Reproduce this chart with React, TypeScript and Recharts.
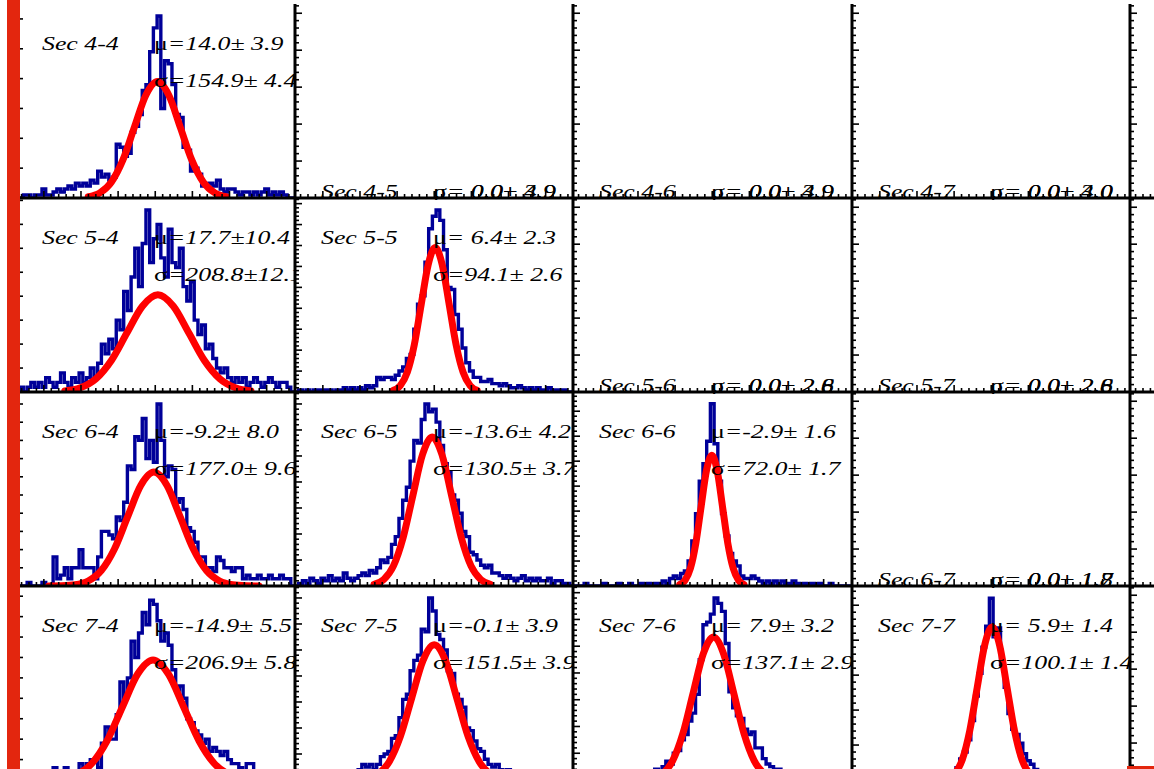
import React from 'react';
import { ComposedChart, Line, XAxis, YAxis } from 'recharts';

// histogram binning shared by every panel (75 bins of 25)
const BIN_LO = -937.5;
const BIN_W = 25;
const X_DOMAIN: [number, number] = [-937.5, 937.5];
const X_MINOR = 50;
const X_MAJOR = 250;

// panel frame positions on the page
const COL_X = [16, 294.5, 573, 851.5, 1130];
const ROW_Y = [4, 198, 392, 586];
const PW = 278.5;
const PH = 194;

const rowSec = [4, 5, 6, 7];
const colSec = [4, 5, 6, 7, 8];

// counts per bin
const sec44Counts = [0,0,1,1,0,1,1,3,1,1, 2,3,2,3,4,3,5,4,5,4, 6,5,9,7,8,6,7,18,17,14, 15,22,24,28,36,38,49,57,61,30, 46,45,38,28,27,17,16,9,10,8, 4,4,5,4,6,3,2,3,3,2, 1,2,2,1,2,1,2,3,1,2, 1,2,1,0,0];
const sec54Counts = [0,1,0,1,2,1,2,1,3,2, 1,2,4,2,1,3,2,4,2,3, 5,3,6,10,8,11,9,15,13,21, 17,24,30,22,31,38,27,32,35,28, 24,34,27,26,30,22,19,23,15,12, 14,9,10,7,5,4,5,3,2,3, 2,3,1,2,3,2,1,2,3,2, 1,2,2,1,0];
const sec64Counts = [0,0,0,1,0,0,0,1,0,0, 8,2,3,5,2,5,5,10,5,5, 5,2,8,15,15,14,13,19,18,23, 33,32,41,40,46,35,40,34,50,40, 30,33,32,23,24,21,16,15,12,8, 8,5,5,4,8,7,5,5,4,5, 5,2,3,2,2,3,2,2,3,2, 2,3,2,2,0];
const sec74Counts = [0,0,0,0,0,1,0,0,1,0, 3,1,2,3,1,2,1,4,3,4, 5,5,3,9,13,10,10,16,24,20, 25,34,30,36,41,38,44,43,39,34, 36,33,27,22,23,20,15,14,12,11, 9,10,7,8,7,6,7,5,4,4, 3,2,4,4,2,1,2,1,0,1, 0,0,0,0,0];
const sec55Counts = [0,1,0,1,0,1,1,0,1,1, 0,1,1,2,1,2,1,2,1,3, 2,3,7,6,7,7,6,8,10,12, 16,18,30,42,46,62,78,84,87,82, 68,50,49,37,30,21,14,10,7,7, 5,5,6,4,4,3,4,3,2,2, 3,2,1,2,1,2,1,1,2,1, 1,0,1,0,0];
const sec65Counts = [0,1,2,1,3,2,1,3,2,4, 2,3,2,5,3,2,3,4,5,4, 6,5,7,10,9,11,16,19,26,33, 38,48,56,55,64,70,67,68,63,54, 47,44,35,33,28,21,19,13,12,10, 8,7,8,5,5,4,3,4,3,2, 3,4,2,3,2,3,2,2,3,1, 2,2,1,1,0];
const sec75Counts = [0,0,1,0,1,2,1,0,2,1, 2,1,2,3,2,3,2,4,6,5, 6,4,6,9,10,11,16,17,24,31, 33,42,46,48,58,57,70,65,56,54, 50,42,41,33,31,28,20,19,15,12, 11,8,6,5,6,4,3,4,3,2, 3,2,2,1,2,1,1,2,1,0, 1,0,1,0,0];
const sec66Counts = [0,0,0,1,0,0,0,0,1,0, 0,0,1,0,0,1,0,0,1,0, 1,0,1,1,2,1,3,4,3,5, 6,10,18,29,42,49,58,73,57,42, 29,20,13,10,8,4,3,3,4,3, 2,1,2,1,2,1,2,1,1,2, 1,0,1,0,1,0,1,0,0,1, 0,0,0,0,0];
const sec76Counts = [0,1,0,0,1,0,1,0,1,1, 0,1,2,1,1,2,1,2,2,3, 2,3,4,3,5,7,6,10,11,15, 17,22,25,32,45,58,59,62,68,66, 63,51,33,27,24,23,19,17,18,12, 12,8,6,5,4,4,3,3,2,3, 2,1,2,1,1,2,1,1,0,1, 0,1,0,0,0];
const sec77Counts = [0,0,0,0,0,0,0,0,0,0, 0,1,0,0,1,0,0,1,0,1, 0,1,1,2,2,3,4,5,7,12, 16,23,34,48,61,76,88,104,82,87, 66,53,38,29,26,21,15,11,9,6, 5,4,3,3,2,2,1,2,1,1, 0,1,0,1,0,0,1,0,0,0, 0,0,0,0,0];

// gaussian fit curves, sampled points
const sec44FitX = [-450.7, -373.3, -295.8, -218.4, -140.9, -63.5, 14, 91.5, 168.9, 246.4, 323.8, 401.3, 478.7];
const sec44FitY = [0.43, 1.71, 5.28, 12.66, 23.65, 34.42, 39, 34.42, 23.65, 12.66, 5.28, 1.71, 0.43];
const sec54FitX = [-608.7, -504.3, -399.9, -295.5, -191.1, -86.7, 17.7, 122.1, 226.5, 330.9, 435.3, 539.7, 644.1];
const sec54FitY = [0.23, 0.89, 2.75, 6.59, 12.31, 17.91, 20.3, 17.91, 12.31, 6.59, 2.75, 0.89, 0.23];
const sec64FitX = [-717.2, -628.7, -540.2, -451.7, -363.2, -274.7, -186.2, -97.7, -9.2, 79.3, 167.8, 256.3, 344.8, 433.3, 521.8, 610.3, 698.8];
const sec64FitY = [0.01, 0.07, 0.35, 1.37, 4.24, 10.16, 18.98, 27.62, 31.3, 27.62, 18.98, 10.16, 4.24, 1.37, 0.35, 0.07, 0.01];
const sec74FitX = [-635.6, -532.2, -428.7, -325.3, -221.8, -118.4, -14.9, 88.6, 192, 295.4, 398.9, 502.4, 605.8];
const sec74FitY = [0.33, 1.29, 3.98, 9.55, 17.83, 25.95, 29.4, 25.95, 17.83, 9.55, 3.98, 1.29, 0.33];
const sec55FitX = [-275.9, -228.9, -181.8, -134.8, -87.7, -40.7, 6.4, 53.5, 100.5, 147.6, 194.6, 241.7, 288.7];
const sec55FitY = [0.77, 3.03, 9.34, 22.4, 41.85, 60.89, 69, 60.89, 41.85, 22.4, 9.34, 3.03, 0.77];
const sec65FitX = [-405.1, -339.9, -274.6, -209.4, -144.1, -78.9, -13.6, 51.7, 116.9, 182.2, 247.4, 312.7, 377.9];
const sec65FitY = [0.64, 2.52, 7.75, 18.61, 34.75, 50.57, 57.3, 50.57, 34.75, 18.61, 7.75, 2.52, 0.64];
const sec75FitX = [-454.6, -378.9, -303.1, -227.4, -151.6, -75.9, -0.1, 75.7, 151.4, 227.2, 302.9, 378.7, 454.4];
const sec75FitY = [0.58, 2.28, 7.04, 16.88, 31.54, 45.89, 52, 45.89, 31.54, 16.88, 7.04, 2.28, 0.58];
const sec66FitX = [-218.9, -182.9, -146.9, -110.9, -74.9, -38.9, -2.9, 33.1, 69.1, 105.1, 141.1, 177.1, 213.1];
const sec66FitY = [0.58, 2.3, 7.09, 17.01, 31.78, 46.24, 52.4, 46.24, 31.78, 17.01, 7.09, 2.3, 0.58];
const sec76FitX = [-403.4, -334.9, -266.3, -197.8, -129.2, -60.7, 7.9, 76.5, 145, 213.6, 282.1, 350.7, 419.2];
const sec76FitY = [0.59, 2.34, 7.23, 17.34, 32.39, 47.13, 53.4, 47.13, 32.39, 17.34, 7.23, 2.34, 0.59];
const sec77FitX = [-294.4, -244.4, -194.3, -144.3, -94.2, -44.2, 5.9, 56, 106, 156.1, 206.1, 256.2, 306.2];
const sec77FitY = [0.97, 3.84, 11.84, 28.41, 53.07, 77.22, 87.5, 77.22, 53.07, 28.41, 11.84, 3.84, 0.97];

// fit results printed in each panel
const muLabels: Record<string, string> = {
  '4-4': '=14.0± 3.9', '5-4': '=17.7±10.4', '6-4': '=-9.2± 8.0', '7-4': '=-14.9± 5.5',
  '5-5': '= 6.4± 2.3', '6-5': '=-13.6± 4.2', '7-5': '=-0.1± 3.9',
  '6-6': '=-2.9± 1.6', '7-6': '= 7.9± 3.2', '7-7': '= 5.9± 1.4',
  '4-5': '= 0.0± 3.9', '4-6': '= 0.0± 3.9', '4-7': '= 0.0± 3.0',
  '5-6': '= 0.0± 2.8', '5-7': '= 0.0± 2.8', '6-7': '= 0.0± 1.8',
};
const sigmaLabels: Record<string, string> = {
  '4-4': '=154.9± 4.4', '5-4': '=208.8±12.1', '6-4': '=177.0± 9.6', '7-4': '=206.9± 5.8',
  '5-5': '=94.1± 2.6', '6-5': '=130.5± 3.7', '7-5': '=151.5± 3.9',
  '6-6': '=72.0± 1.7', '7-6': '=137.1± 2.9', '7-7': '=100.1± 1.4',
  '4-5': '= 0.0± 4.9', '4-6': '= 0.0± 4.9', '4-7': '= 0.0± 4.0',
  '5-6': '= 0.0± 2.6', '5-7': '= 0.0± 2.6', '6-7': '= 0.0± 1.7',
};

type Filled = { counts: number[]; fitX: number[]; fitY: number[]; yTop: number; yStep: number };
const filled: Record<string, Filled> = {
  '4-4': { counts: sec44Counts, fitX: sec44FitX, fitY: sec44FitY, yTop: 65, yStep: 10 },
  '5-4': { counts: sec54Counts, fitX: sec54FitX, fitY: sec54FitY, yTop: 40.5, yStep: 5 },
  '6-4': { counts: sec64Counts, fitX: sec64FitX, fitY: sec64FitY, yTop: 53.3, yStep: 5 },
  '7-4': { counts: sec74Counts, fitX: sec74FitX, fitY: sec74FitY, yTop: 47.5, yStep: 5 },
  '5-5': { counts: sec55Counts, fitX: sec55FitX, fitY: sec55FitY, yTop: 92.7, yStep: 10 },
  '6-5': { counts: sec65Counts, fitX: sec65FitX, fitY: sec65FitY, yTop: 74.6, yStep: 10 },
  '7-5': { counts: sec75Counts, fitX: sec75FitX, fitY: sec75FitY, yTop: 74.6, yStep: 10 },
  '6-6': { counts: sec66Counts, fitX: sec66FitX, fitY: sec66FitY, yTop: 77.7, yStep: 10 },
  '7-6': { counts: sec76Counts, fitX: sec76FitX, fitY: sec76FitY, yTop: 72.5, yStep: 10 },
  '7-7': { counts: sec77Counts, fitX: sec77FitX, fitY: sec77FitY, yTop: 111, yStep: 20 },
};

const xTicks: number[] = [];
for (let v = -900; v <= 900; v += X_MINOR) xTicks.push(v);

const FONT = "'Liberation Serif', 'Times New Roman', serif";

function histPoints(counts: number[]) {
  const pts = counts.map((c, i) => ({ x: BIN_LO + i * BIN_W, y: c }));
  pts.push({ x: BIN_LO + counts.length * BIN_W, y: counts[counts.length - 1] });
  return pts;
}

function XTick(props: any) {
  const { x, y, payload } = props;
  const major = Math.abs(payload.value % X_MAJOR) < 1e-6;
  return <line x1={x} y1={y} x2={x} y2={y - (major ? 7 : 4)} stroke="#000" strokeWidth={1.6} />;
}

function Label({ x, y, greek, text }: { x: number; y: number; greek?: string; text: string }) {
  return (
    <g transform={`translate(${x} ${y}) scale(1.36 1)`}>
      <text x={0} y={0} fontFamily={FONT} fontSize={19} fontStyle="italic" fill="#000">
        {greek && <tspan fontStyle="normal">{greek}</tspan>}
        {text}
      </text>
    </g>
  );
}

function Panel({ row, col }: { row: number; col: number }) {
  const key = `${rowSec[row]}-${colSec[col]}`;
  const f = filled[key];
  const yTop = f ? f.yTop : 1.05;
  const yStep = f ? f.yStep : 0.2;
  const yTicks: number[] = [];
  for (let i = 0; (i * yStep) / 5 <= yTop + 1e-9; i++) yTicks.push(+((i * yStep) / 5).toFixed(5));

  const YTick = (props: any) => {
    const { x, y, payload } = props;
    const r = payload.value / yStep;
    const major = Math.abs(r - Math.round(r)) < 1e-6;
    return <line x1={x} y1={y} x2={x + (major ? 7 : 4)} y2={y} stroke="#000" strokeWidth={1.6} />;
  };

  const hist = f ? histPoints(f.counts) : [];
  const fit = f ? f.fitX.map((x, i) => ({ x, y: f.fitY[i] })) : [];
  const axisStyle = { stroke: '#000', strokeWidth: 3 };
  const y1 = f ? 46 : PH;
  const y2 = f ? 83 : PH;

  return (
    <div style={{ position: 'absolute', left: COL_X[col] - 2, top: ROW_Y[row], width: PW + 2, height: PH + 2, overflow: 'hidden' }}>
      <ComposedChart width={PW + 2} height={PH + 2} margin={{ top: 0, right: 0, bottom: 1, left: 1 }}>
        <XAxis type="number" dataKey="x" domain={X_DOMAIN} ticks={xTicks} interval={0} height={1}
          tickSize={0} tickMargin={0} tickLine={false} axisLine={axisStyle} tick={XTick} allowDataOverflow />
        <YAxis type="number" domain={[0, yTop]} ticks={yTicks} interval={0} width={1}
          tickSize={0} tickMargin={0} tickLine={false} axisLine={axisStyle} tick={YTick} allowDataOverflow />
        {f && (
          <Line data={hist} dataKey="y" type="stepAfter" stroke="#000099" strokeWidth={3.4}
            dot={false} activeDot={false} isAnimationActive={false} />
        )}
        {f && (
          <Line data={fit} dataKey="y" type="monotone" stroke="#ff0000" strokeWidth={7} strokeLinecap="round"
            dot={false} activeDot={false} isAnimationActive={false} />
        )}
      </ComposedChart>
      <svg width={PW + 2} height={PH + 2} style={{ position: 'absolute', left: 0, top: 0 }}>
        <Label x={28} y={y1} text={`Sec ${key}`} />
        <Label x={140} y={y1} greek="μ" text={muLabels[key] ?? '= 0.0± 0.0'} />
        <Label x={140} y={y2} greek="σ" text={sigmaLabels[key] ?? '= 0.0± 0.0'} />
      </svg>
    </div>
  );
}

export default function App() {
  const cells: { row: number; col: number }[] = [];
  rowSec.forEach((_, r) => colSec.forEach((__, c) => cells.push({ row: r, col: c })));
  return (
    <div style={{ position: 'absolute', left: 0, top: 0, width: 1154, height: 769, overflow: 'hidden', background: '#fff' }}>
      {cells.map((c) => (
        <Panel key={`${c.row}-${c.col}`} row={c.row} col={c.col} />
      ))}
      <div style={{ position: 'absolute', left: 7, top: 0, width: 13, height: 769, background: '#e3260e' }} />
      <div style={{ position: 'absolute', left: 1127, top: 766, width: 27, height: 3, background: '#e3260e' }} />
    </div>
  );
}
